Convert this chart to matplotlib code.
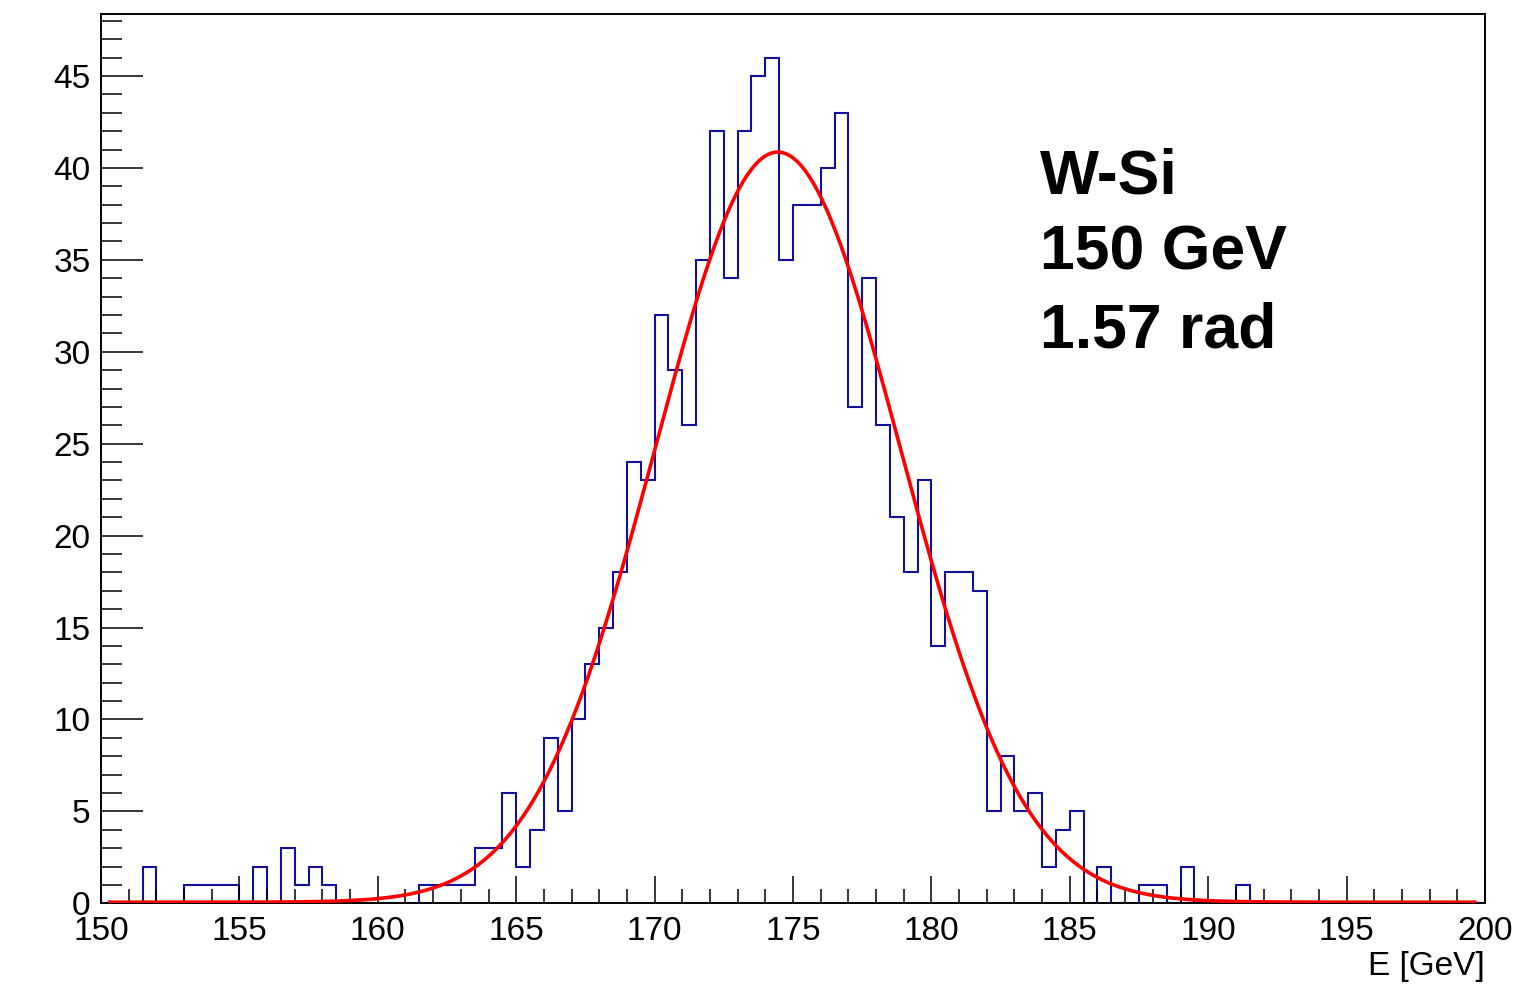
import numpy as np
import matplotlib
matplotlib.use("Agg")
import matplotlib.pyplot as plt
from matplotlib.ticker import MultipleLocator

plt.rcParams['font.family'] = ['Liberation Sans', 'DejaVu Sans']

# histogram: 100 bins of 0.5 GeV from 150 to 200
x_min, x_max, n_bins = 150., 200., 100
counts = [0, 0, 0, 2, 0, 0, 1, 1, 1, 1,
          0, 2, 0, 3, 1, 2, 1, 0, 0, 0,
          0, 0, 0, 1, 1, 1, 1, 3, 3, 6,
          2, 4, 9, 5, 10, 13, 15, 18, 24, 23,
          32, 29, 26, 35, 42, 34, 42, 45, 46, 35,
          38, 38, 40, 43, 27, 34, 26, 21, 18, 23,
          14, 18, 18, 17, 5, 8, 5, 6, 2, 4,
          5, 0, 2, 0, 0, 1, 1, 0, 2, 0,
          0, 0, 1, 0, 0, 0, 0, 0, 0, 0,
          0, 0, 0, 0, 0, 0, 0, 0, 0, 0]

# gaussian fit parameters
fit_const = 40.8
fit_mean = 174.45
fit_sigma = 4.42
fit_range = (150.25, 199.7)

labels = ["W-Si", "150 GeV", "1.57 rad"]

W, H = 1532, 984
fig = plt.figure(figsize=(W/100., H/100.), dpi=100)
ax = fig.add_axes([101./W, (H-903.3)/H, 1384./W, 889.3/H])

edges = np.linspace(x_min, x_max, n_bins + 1)
ax.stairs(counts, edges, color='#10109c', lw=1.5, baseline=0)

xf = np.linspace(fit_range[0], fit_range[1], 500)
yf = fit_const*np.exp(-0.5*((xf - fit_mean)/fit_sigma)**2)
# lift the tails a hair so the red line shows above the axis, like ROOT
ax.plot(xf, yf + 0.06, color='#ff0000', lw=2.6, solid_capstyle='butt', zorder=3)

ax.set_xlim(x_min, x_max)
ax.set_ylim(0, 48.37)

ax.xaxis.set_major_locator(MultipleLocator(5))
ax.xaxis.set_minor_locator(MultipleLocator(1))
ax.yaxis.set_major_locator(MultipleLocator(5))
ax.yaxis.set_minor_locator(MultipleLocator(1))

ax.tick_params(axis='x', which='major', direction='in', length=19.5, width=1.1, labelsize=24, pad=9)
ax.tick_params(axis='x', which='minor', direction='in', length=9.8, width=1.1)
ax.tick_params(axis='y', which='major', direction='in', length=30, width=1.1, labelsize=24, pad=7.5)
ax.tick_params(axis='y', which='minor', direction='in', length=15, width=1.1)
ax.tick_params(top=False, right=False, which='both')
for s in ax.spines.values():
    s.set_linewidth(1.4)

ax.text(1.0, (903.3-975)/889.3, "E [GeV]", transform=ax.transAxes,
        ha='right', va='baseline', fontsize=24)

base_y = [193, 270, 347]
for lab, by in zip(labels, base_y):
    ax.text((1040-101)/1384., (903.3-by)/889.3, lab, transform=ax.transAxes,
            ha='left', va='baseline', fontsize=45, fontweight='bold')

fig.savefig("out.png", dpi=100)
